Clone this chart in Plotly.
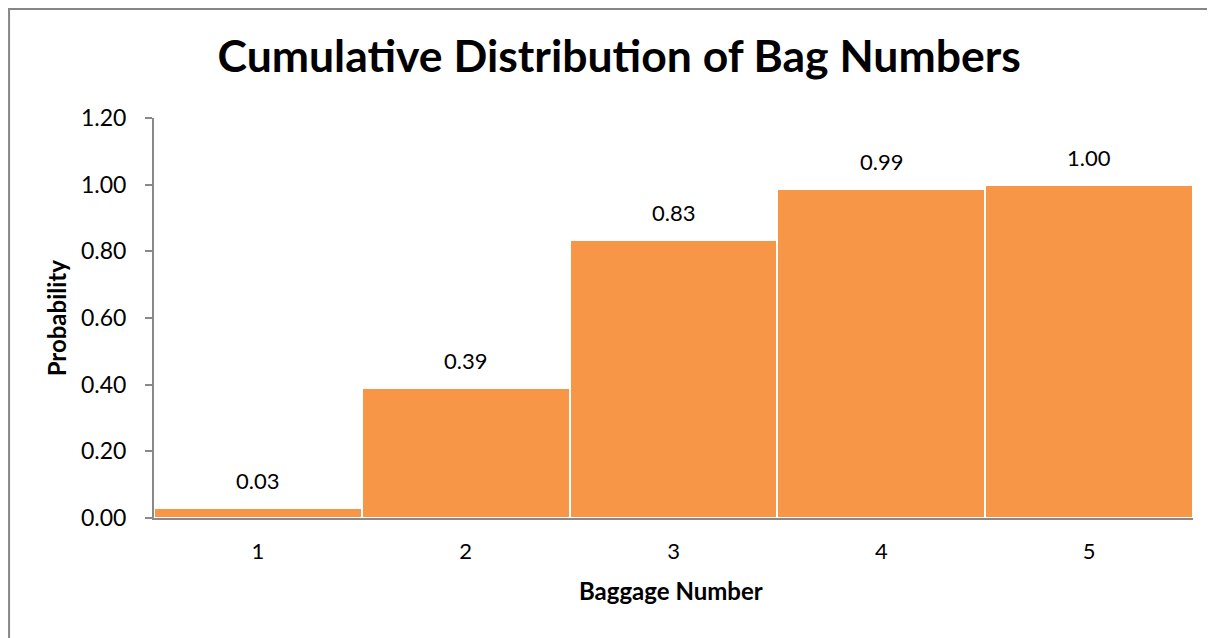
import plotly.graph_objects as go

categories = ["1", "2", "3", "4", "5"]
probabilities = [0.03, 0.39, 0.833, 0.986, 1.0]
labels = ["0.03", "0.39", "0.83", "0.99", "1.00"]
y_ticks = [0.0, 0.2, 0.4, 0.6, 0.8, 1.0, 1.2]

FONT = "Lato"
fig = go.Figure()
fig.add_trace(go.Bar(
    x=categories, y=probabilities,
    marker=dict(color="#F79646", line=dict(color="white", width=2)),
    width=1.0, hoverinfo="skip",
))
for i, (v, t) in enumerate(zip(probabilities, labels)):
    fig.add_annotation(x=i, y=v, xref="x", yref="y", text=t, showarrow=False,
                       yanchor="bottom", yshift=12,
                       font=dict(family=FONT, size=22, color="#000"))

fig.add_annotation(text="<b>Probability</b>", xref="paper", yref="paper",
                   x=-0.094, y=0.5, textangle=-90, showarrow=False,
                   xanchor="center", yanchor="middle",
                   font=dict(family=FONT, size=24, color="#000"))
fig.add_annotation(text="<b>Baggage Number</b>", xref="paper", yref="paper",
                   x=0.4976, y=-0.18, showarrow=False,
                   xanchor="center", yanchor="middle",
                   font=dict(family=FONT, size=24, color="#000"))

fig.update_layout(
    width=1215, height=638,
    margin=dict(l=146, r=30, t=110, b=128, autoexpand=False),
    paper_bgcolor="white", plot_bgcolor="white",
    bargap=0, showlegend=False,
    title=dict(text="<b>Cumulative Distribution of Bag Numbers</b>",
               x=0.503, xanchor="center", y=0.924, yanchor="middle",
               font=dict(family=FONT, size=44.5, color="#000")),
    font=dict(family=FONT, color="#000"),
    xaxis=dict(type="category", range=[-0.5, 4.5], showline=True, linecolor="#898989",
               linewidth=2, ticks="", tickfont=dict(size=22, family=FONT),
               ticklabelstandoff=13, automargin=False,
               showgrid=False, zeroline=False),
    yaxis=dict(range=[0, 1.2], tickvals=y_ticks, tickformat=".2f", showline=True,
               linecolor="#898989", linewidth=2, ticks="outside", ticklen=7,
               tickcolor="#898989", tickwidth=2, ticklabelstandoff=14, automargin=False,
               tickfont=dict(size=23, family=FONT), showgrid=False, zeroline=False),
    shapes=[
        dict(type="line", xref="paper", yref="paper", x0=-0.1395, x1=-0.1395, y0=-0.5, y1=1.2725,
             line=dict(color="#868686", width=2)),
        dict(type="line", xref="paper", yref="paper", x0=-0.1405, x1=1.2, y0=1.2725, y1=1.2725,
             line=dict(color="#868686", width=2)),
    ],
)
fig.write_html("out.html")
